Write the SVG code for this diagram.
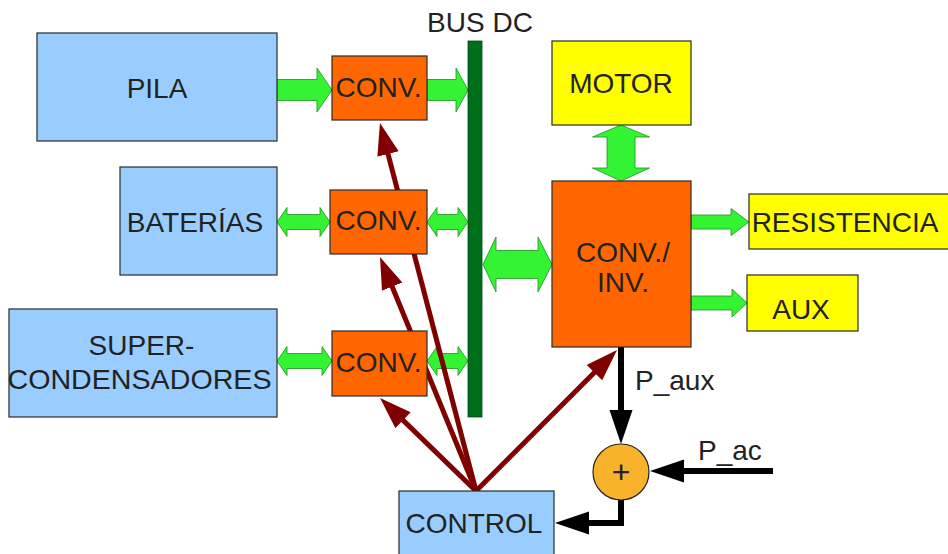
<svg xmlns="http://www.w3.org/2000/svg" width="948" height="554" viewBox="0 0 948 554">
<defs>
<style>
.t{font-family:"Liberation Sans",Arial,sans-serif;font-size:28px;fill:#222;text-anchor:middle}
.ts{font-family:"Liberation Sans",Arial,sans-serif;font-size:28px;fill:#222}
.blue{fill:#99ccff;stroke:#2a2a2a;stroke-width:1.2}
.orange{fill:#ff6600;stroke:#2a2a2a;stroke-width:1.2}
.yellow{fill:#ffff00;stroke:#2a2a2a;stroke-width:1.2}
.g{fill:#33f333;stroke:#1f8f1f;stroke-width:0.8;stroke-linejoin:miter}
.r{fill:none;stroke:#800000;stroke-width:5}
.k{fill:none;stroke:#000;stroke-width:6}
</style>
<marker id="ar" markerUnits="userSpaceOnUse" markerWidth="34" markerHeight="24" refX="12" refY="11" orient="auto" viewBox="0 0 34 24">
<path d="M0,0 L32,11 L0,22 Z" fill="#800000"/>
</marker>
<marker id="ak" markerUnits="userSpaceOnUse" markerWidth="36" markerHeight="24" refX="14" refY="11.5" orient="auto" viewBox="0 0 36 24">
<path d="M0,0 L34,11.5 L0,23 Z" fill="#000"/>
</marker>
</defs>
<rect width="948" height="554" fill="#fff"/>
<g id="connectors">
<path class="g" d="M277,79.5 H317 V68 L332,90 L317,112 V100.5 H277 Z"/>
<path class="g" d="M427,79.5 H456 V68 L468,90 L456,112 V100.5 H427 Z"/>
<path class="g" d="M277,222 L287,207.5 V214.5 H320 V207.5 L330,222 L320,236.5 V229.5 H287 V236.5 Z"/>
<path class="g" d="M427,222 L437,207.5 V214.5 H458 V207.5 L468,222 L458,236.5 V229.5 H437 V236.5 Z"/>
<path class="g" d="M277,361 L287,346.5 V353.5 H322 V346.5 L332,361 L322,375.5 V368.5 H287 V375.5 Z"/>
<path class="g" d="M427,361 L437,346.5 V353.5 H458 V346.5 L468,361 L458,375.5 V368.5 H437 V375.5 Z"/>
<path class="g" d="M483,264.5 L496,237 V250.5 H538 V237 L552,264.5 L538,292 V278.5 H496 V292 Z"/>
<path class="g" d="M621,125 L649.5,137 H635 V168 H649.5 L621,181 L592.5,168 H607 V137 H592.5 Z"/>
<path class="g" d="M691,215 H731 V208.5 L749,222 L731,235.5 V229 H691 Z"/>
<path class="g" d="M691,296 H732 V289 L747,303 L732,317 V310 H691 Z"/>
<line class="r" x1="476" y1="491" x2="385" y2="142.4" marker-end="url(#ar)"/>
<line class="r" x1="476" y1="491" x2="387.6" y2="275.5" marker-end="url(#ar)"/>
<line class="r" x1="476" y1="491" x2="394.4" y2="411.9" marker-end="url(#ar)"/>
<line class="r" x1="476" y1="491" x2="602.9" y2="364.1" marker-end="url(#ar)"/>
<line class="k" x1="621" y1="347" x2="621" y2="424" marker-end="url(#ak)"/>
<line class="k" x1="773" y1="471" x2="670" y2="471" marker-end="url(#ak)"/>
<path class="k" d="M621,499 V523 H575" marker-end="url(#ak)"/>
</g>
<g id="pila"><rect class="blue" x="37" y="33" width="240" height="108"/><text class="t" x="157" y="98">PILA</text></g>
<g id="baterias"><rect class="blue" x="120" y="167" width="157" height="108"/><text class="t" x="195" y="232">BATERÍAS</text></g>
<g id="supercondensadores"><rect class="blue" x="9" y="309" width="268" height="108"/><text class="t" x="141.5" y="355">SUPER-</text><text class="t" x="139.5" y="389" textLength="264" lengthAdjust="spacingAndGlyphs">CONDENSADORES</text></g>
<g id="conv1"><rect class="orange" x="332" y="56" width="95" height="64"/><text class="t" x="378.5" y="97">CONV.</text></g>
<g id="conv2"><rect class="orange" x="330" y="190" width="97" height="64"/><text class="t" x="378.5" y="230">CONV.</text></g>
<g id="conv3"><rect class="orange" x="332" y="331" width="95" height="65"/><text class="t" x="378.5" y="372">CONV.</text></g>
<g id="busdc"><rect x="468" y="41" width="14" height="376" fill="#006f1c" stroke="#004a12" stroke-width="0.8"/><text class="t" x="480" y="32">BUS DC</text></g>
<g id="motor"><rect class="yellow" x="552" y="41" width="139" height="84"/><text class="t" x="621" y="93">MOTOR</text></g>
<g id="convinv"><rect class="orange" x="552" y="181" width="139" height="166"/><text class="t" x="623" y="262">CONV./</text><text class="t" x="623" y="292">INV.</text></g>
<g id="resistencia"><rect class="yellow" x="749" y="194" width="205" height="55"/><text class="t" x="845" y="232">RESISTENCIA</text></g>
<g id="aux"><rect class="yellow" x="747" y="275" width="111" height="56"/><text class="t" x="801" y="319">AUX</text></g>
<g id="sum"><circle cx="621" cy="472" r="28" fill="#f8b22c" stroke="#222" stroke-width="1.2"/><text class="t" x="621" y="483" style="font-size:32px">+</text></g>
<g id="control"><rect class="blue" x="399" y="491" width="155" height="70"/><text class="t" x="474" y="533">CONTROL</text></g>
<g id="labels"><text class="ts" x="635" y="390">P_aux</text><text class="ts" x="698" y="460">P_ac</text></g>
</svg>
